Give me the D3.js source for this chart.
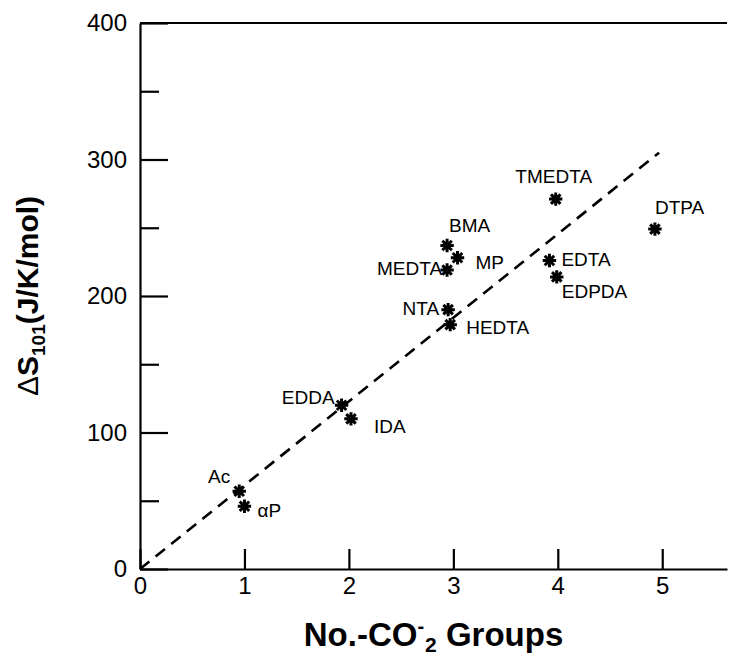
<!DOCTYPE html>
<html lang="en">
<head>
<meta charset="UTF-8">
<title>Entropy vs carboxylate groups</title>
<style>
    body { margin: 0; background: #fff; }
    svg { display: block; font-family: "Liberation Sans", Arial, Helvetica, sans-serif; }
    .axis path, .axis line { stroke: #000; stroke-width: 2.2px; }
    .axis text { font-size: 24px; fill: #000; }
    .point-label { font-size: 19px; fill: #000; }
    .title { font-weight: bold; fill: #000; }
</style>
</head>
<body>
<svg id="chart" width="730" height="657"></svg>
<script src="https://d3js.org/d3.v7.min.js"></script>
<script>
    // --- data ---
    const ligands = ["Ac", "αP", "EDDA", "IDA", "NTA", "HEDTA", "MEDTA", "BMA", "MP", "EDTA", "EDPDA", "TMEDTA", "DTPA"];
    const groups  = [0.95, 1.00, 1.93, 2.02, 2.95, 2.97, 2.94, 2.94, 3.04, 3.92, 3.99, 3.98, 4.93];
    const entropy = [57, 46, 120, 110, 190, 179, 219, 237, 228, 226, 214, 271, 249];
    const trendX = [0, 4.97];
    const trendY = [0, 305];
    const xTicks = [0, 1, 2, 3, 4, 5];
    const yMajor = [0, 100, 200, 300, 400];
    const yMinor = [50, 150, 250, 350];

    // label placement (pixels relative to each star)
    const labelPos = {
        "Ac":     { dx: -9, dy: -8,  anchor: "end" },
        "αP":     { dx: 13, dy: 11,  anchor: "start" },
        "EDDA":   { dx: -7, dy: -1,  anchor: "end" },
        "IDA":    { dx: 23, dy: 14,  anchor: "start" },
        "NTA":    { dx: -9, dy: 5,   anchor: "end" },
        "HEDTA":  { dx: 16, dy: 9,   anchor: "start" },
        "MEDTA":  { dx: -5, dy: 5,   anchor: "end" },
        "BMA":    { dx: 2,  dy: -13, anchor: "start" },
        "MP":     { dx: 18, dy: 11,  anchor: "start" },
        "EDTA":   { dx: 12, dy: 5,   anchor: "start" },
        "EDPDA":  { dx: 5,  dy: 21,  anchor: "start" },
        "TMEDTA": { dx: -2, dy: -16, anchor: "middle" },
        "DTPA":   { dx: 0,  dy: -15, anchor: "start" }
    };

    const svg = d3.select("#chart");
    const margin = { top: 23, right: 3, bottom: 88, left: 140 };
    const width = +svg.attr("width") - margin.left - margin.right;
    const height = +svg.attr("height") - margin.top - margin.bottom;
    const g = svg.append("g").attr("transform", `translate(${margin.left},${margin.top})`);

    const x = d3.scaleLinear().domain([0, 5.62]).range([0, width]);
    const y = d3.scaleLinear().domain([0, 400]).range([height, 0]);

    // frame: top line
    g.append("line")
        .attr("x1", 0).attr("x2", width)
        .attr("y1", y(400)).attr("y2", y(400))
        .attr("stroke", "#000").attr("stroke-width", 2.2);

    // y axis, ticks pointing inward
    g.append("g").attr("class", "axis")
        .call(d3.axisLeft(y).tickValues(yMajor).tickSize(-28).tickSizeOuter(0).tickPadding(13).tickFormat(d3.format("d")));
    g.append("g").attr("class", "axis")
        .call(d3.axisLeft(y).tickValues(yMinor).tickSize(-19).tickSizeOuter(0).tickFormat(""))
        .select(".domain").remove();

    // x axis
    g.append("g").attr("class", "axis")
        .attr("transform", `translate(0,${height})`)
        .call(d3.axisBottom(x).tickValues(xTicks).tickSize(-20).tickSizeOuter(0).tickPadding(8).tickFormat(d3.format("d")));

    // dashed fit line
    const line = d3.line().x(d => x(d[0])).y(d => y(d[1]));
    g.append("path")
        .datum(d3.zip(trendX, trendY))
        .attr("d", line)
        .attr("fill", "none")
        .attr("stroke", "#000")
        .attr("stroke-width", 2.6)
        .attr("stroke-dasharray", "12,8");

    // eight-armed asterisk marker
    const star8 = {
        draw(context, size) {
            const r = Math.sqrt(size) / 2;
            const k = r * Math.SQRT1_2;
            context.moveTo(-r, 0); context.lineTo(r, 0);
            context.moveTo(0, -r); context.lineTo(0, r);
            context.moveTo(-k, -k); context.lineTo(k, k);
            context.moveTo(-k, k); context.lineTo(k, -k);
        }
    };
    const symbol = d3.symbol().type(star8).size(180);

    const pts = g.selectAll(".pt")
        .data(ligands.map((name, i) => ({ name, gx: groups[i], s: entropy[i] })))
        .enter().append("g")
        .attr("class", "pt")
        .attr("transform", d => `translate(${x(d.gx)},${y(d.s)})`);

    pts.append("path")
        .attr("d", symbol)
        .attr("fill", "none")
        .attr("stroke", "#000")
        .attr("stroke-width", 3);

    pts.append("text")
        .attr("class", "point-label")
        .attr("x", d => labelPos[d.name].dx)
        .attr("y", d => labelPos[d.name].dy)
        .attr("text-anchor", d => labelPos[d.name].anchor)
        .text(d => d.name);

    // x title: No.-CO⁻₂ Groups
    const xt = svg.append("text")
        .attr("class", "title")
        .attr("font-size", 33)
        .attr("x", margin.left + width / 2)
        .attr("y", 646)
        .attr("text-anchor", "middle");
    xt.append("tspan").text("No.-CO");
    xt.append("tspan").attr("font-size", 20).attr("dy", -13).text("-");
    xt.append("tspan").attr("font-size", 21).attr("dx", 1).attr("dy", 19).text("2");
    xt.append("tspan").attr("dy", -6).text(" Groups");

    // y title: ΔS101(J/K/mol)
    const yt = svg.append("text")
        .attr("class", "title")
        .attr("font-size", 30)
        .attr("transform", `translate(38,${margin.top + height / 2}) rotate(-90)`)
        .attr("text-anchor", "middle");
    yt.append("tspan").attr("font-weight", "normal").text("Δ");
    yt.append("tspan").text("S");
    yt.append("tspan").attr("font-size", 19).attr("dy", 7).text("101");
    yt.append("tspan").attr("dy", -7).text("(J/K/mol)");
</script>
</body>
</html>
